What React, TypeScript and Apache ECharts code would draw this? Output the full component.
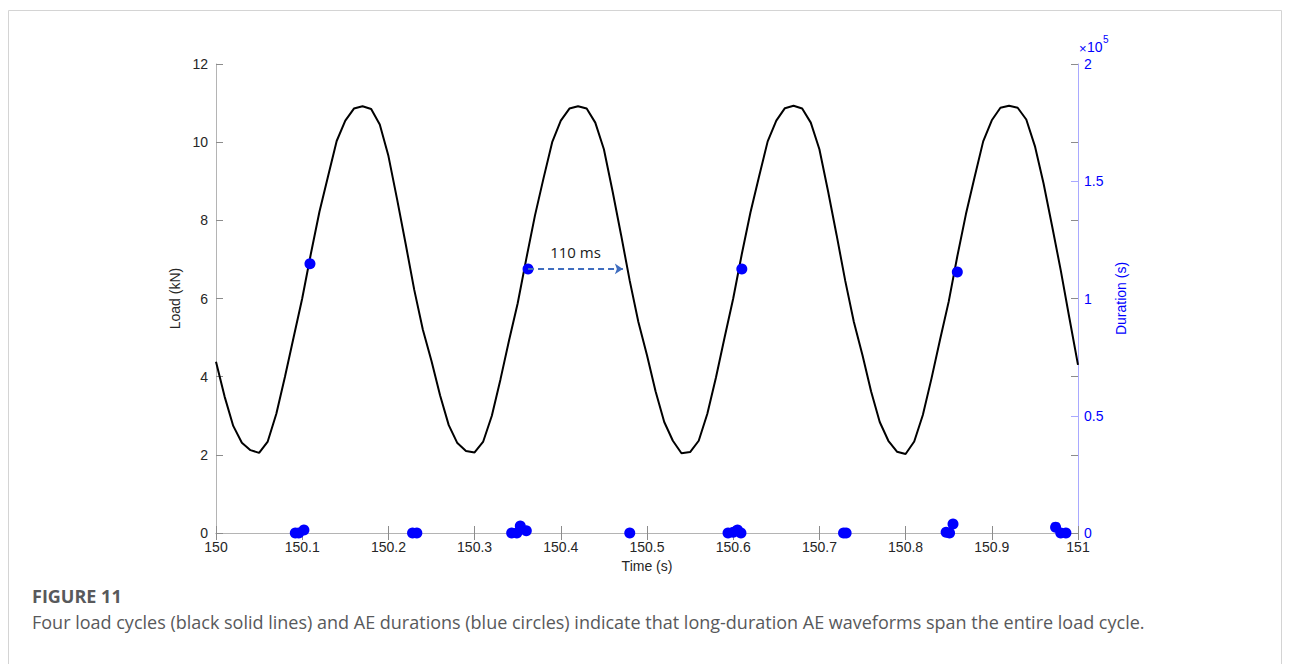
import React, { useEffect, useRef } from "react";
import * as echarts from "echarts";

// Load signal sampled every 10 ms (s, kN)
const timeS = [
  150.0, 150.01, 150.02, 150.03, 150.04, 150.05, 150.06, 150.07, 150.08, 150.09,
  150.1, 150.11, 150.12, 150.13, 150.14, 150.15, 150.16, 150.17, 150.18, 150.19,
  150.2, 150.21, 150.22, 150.23, 150.24, 150.25, 150.26, 150.27, 150.28, 150.29,
  150.3, 150.31, 150.32, 150.33, 150.34, 150.35, 150.36, 150.37, 150.38, 150.39,
  150.4, 150.41, 150.42, 150.43, 150.44, 150.45, 150.46, 150.47, 150.48, 150.49,
  150.5, 150.51, 150.52, 150.53, 150.54, 150.55, 150.56, 150.57, 150.58, 150.59,
  150.6, 150.61, 150.62, 150.63, 150.64, 150.65, 150.66, 150.67, 150.68, 150.69,
  150.7, 150.71, 150.72, 150.73, 150.74, 150.75, 150.76, 150.77, 150.78, 150.79,
  150.8, 150.81, 150.82, 150.83, 150.84, 150.85, 150.86, 150.87, 150.88, 150.89,
  150.9, 150.91, 150.92, 150.93, 150.94, 150.95, 150.96, 150.97, 150.98, 150.99,
  151.0,
];

const loadKN = [
  4.38, 3.49, 2.74, 2.31, 2.12, 2.05, 2.34, 3.05, 4.0, 5.0, 6.0, 7.14, 8.22, 9.13, 10.03, 10.55, 10.86, 10.92, 10.85, 10.45, 9.65, 8.55, 7.4, 6.22, 5.2,
  4.4, 3.52, 2.76, 2.3, 2.1, 2.06, 2.34, 3.0, 3.93, 4.93, 5.88, 7.02, 8.12, 9.08, 10.0, 10.55, 10.86, 10.92, 10.86, 10.5, 9.82, 8.75, 7.62, 6.45, 5.4,
  4.55, 3.62, 2.84, 2.36, 2.04, 2.07, 2.36, 3.05, 3.98, 5.0, 6.0, 7.14, 8.2, 9.12, 10.02, 10.55, 10.87, 10.93, 10.86, 10.5, 9.82, 8.75, 7.62, 6.45, 5.4,
  4.55, 3.62, 2.84, 2.36, 2.08, 2.02, 2.34, 3.02, 3.95, 4.95, 5.92, 7.08, 8.16, 9.1, 10.02, 10.56, 10.88, 10.93, 10.88, 10.58, 9.9, 8.95, 7.85, 6.72, 5.5,
  4.3,
];

// AE hits: time (s) and duration (axis shown x10^5)
const aeTime = [
  150.092, 150.096, 150.102, 150.109, 150.228, 150.233, 150.343, 150.349, 150.353,
  150.36, 150.362, 150.48, 150.594, 150.6, 150.605, 150.609, 150.61, 150.728,
  150.731, 150.847, 150.851, 150.855, 150.86, 150.974, 150.98, 150.986,
];
const aeDuration = [
  0, 0, 1300, 114800, 0, 0, 0, 0, 3000,
  1000, 112600, 0, 0, 300, 1300, 0, 112600, 0,
  0, 300, 0, 3800, 111300, 2500, 0, 0,
];

// Annotation: span from the AE hit at 150.362 s, 110 ms long
const spanStart = [150.362, 112600];
const spanMs = 110;

const xMin = 150;
const xMax = 151;
const xStep = 0.1;
const loadMax = 12;
const loadStep = 2;
const durMax = 200000;
const durStep = 50000;

const captionTitle = "FIGURE 11";
const captionText =
  "Four load cycles (black solid lines) and AE durations (blue circles) indicate that long-duration AE waveforms span the entire load cycle.";

const FONT = "'Liberation Sans', Arial, Helvetica, sans-serif";
const CAPFONT = "'Open Sans', 'Noto Sans', sans-serif";
const AX = "#b4b4b4";
const TXT = "#262626";
const BLUE = "#0000ff";
const LBLUE = "#a9a9ff";

export default function App() {
  const ref = useRef<HTMLDivElement>(null);

  useEffect(() => {
    document.body.style.margin = "0";
    const chart = echarts.init(ref.current!, null, { renderer: "svg" });
    const option: any = {
      animation: false,
      backgroundColor: "#ffffff",
      grid: { left: 216, right: 212, top: 64, bottom: 131, containLabel: false },
      xAxis: [
        {
          type: "value",
          min: xMin,
          max: xMax,
          interval: xStep,
          position: "bottom",
          name: "Time (s)",
          nameLocation: "middle",
          nameGap: 21,
          nameTextStyle: { fontFamily: FONT, fontSize: 14, color: TXT },
          axisLine: { show: true, lineStyle: { color: AX, width: 1 } },
          axisTick: { show: true, inside: true, length: 7, lineStyle: { color: "#8c8c8c" } },
          axisLabel: {
            fontFamily: FONT,
            fontSize: 14,
            color: TXT,
            margin: 7,
            formatter: (v: number) => String(Math.round(v * 10) / 10),
          },
          splitLine: { show: false },
        },
        {
          type: "value",
          min: xMin,
          max: xMax,
          interval: xStep,
          position: "top",
          axisLine: { show: true, lineStyle: { color: AX, width: 1 } },
          axisTick: { show: true, inside: true, length: 7, lineStyle: { color: "#8c8c8c" } },
          axisLabel: { show: false },
          splitLine: { show: false },
        },
      ],
      yAxis: [
        {
          type: "value",
          min: 0,
          max: loadMax,
          interval: loadStep,
          position: "left",
          name: "Load (kN)",
          nameLocation: "middle",
          nameGap: 31,
          nameTextStyle: { fontFamily: FONT, fontSize: 14, color: TXT },
          axisLine: { show: true, lineStyle: { color: AX, width: 1 } },
          axisTick: { show: true, inside: true, length: 7, lineStyle: { color: "#8c8c8c" } },
          axisLabel: { fontFamily: FONT, fontSize: 14, color: TXT, margin: 8 },
          splitLine: { show: false },
        },
        {
          type: "value",
          min: 0,
          max: durMax,
          interval: durStep,
          position: "right",
          name: "Duration (s)",
          nameLocation: "middle",
          nameGap: 21,
          nameRotate: 90,
          nameTextStyle: { fontFamily: FONT, fontSize: 14, color: BLUE },
          axisLine: { show: true, lineStyle: { color: LBLUE, width: 1 } },
          axisTick: { show: true, inside: true, length: 7, lineStyle: { color: LBLUE } },
          axisLabel: {
            fontFamily: FONT,
            fontSize: 14,
            color: BLUE,
            margin: 6,
            formatter: (v: number) => String(v / 100000),
          },
          splitLine: { show: false },
        },
        {
          type: "value",
          min: 0,
          max: loadMax,
          interval: loadStep,
          position: "right",
          axisLine: { show: false },
          axisTick: { show: true, inside: true, length: 7, lineStyle: { color: "#8c8c8c" } },
          axisLabel: { show: false },
          splitLine: { show: false },
        },
      ],
      series: [
        {
          type: "line",
          name: "Load",
          xAxisIndex: 0,
          yAxisIndex: 0,
          data: timeS.map((t, i) => [t, loadKN[i]]),
          showSymbol: false,
          lineStyle: { color: "#000000", width: 2 },
          z: 2,
        },
        {
          type: "scatter",
          name: "AE duration",
          xAxisIndex: 0,
          yAxisIndex: 1,
          data: aeTime.map((t, i) => [t, aeDuration[i]]),
          symbolSize: 11,
          itemStyle: { color: BLUE, opacity: 1 },
          clip: false,
          z: 3,
          markLine: {
            silent: true,
            symbol: ["none", "arrow"],
            symbolSize: [8, 8],
            lineStyle: { color: "#3f6dbf", width: 2, type: [6, 4] },
            label: {
              show: true,
              position: "insideMiddleTop",
              distance: 9,
              formatter: spanMs + " ms",
              fontFamily: CAPFONT,
              fontSize: 15,
              color: "#1a1a1a",
            },
            emphasis: { disabled: true },
            data: [
              [
                { coord: [spanStart[0], spanStart[1]] },
                { coord: [spanStart[0] + spanMs / 1000, spanStart[1]] },
              ],
            ],
          },
        },
      ],
      graphic: [
        {
          type: "rect",
          shape: { x: 8.5, y: 10.5, width: 1273, height: 700 },
          style: { fill: "none", stroke: "#d4d4d4", lineWidth: 1 },
          silent: true,
          z: -10,
        },
        {
          type: "text",
          x: 1079,
          y: 42,
          style: { text: "×", font: "13px " + FONT, fill: BLUE },
        },
        {
          type: "text",
          x: 1087,
          y: 40,
          style: { text: "10", font: "14px " + FONT, fill: BLUE },
        },
        {
          type: "text",
          x: 1103,
          y: 34,
          style: { text: "5", font: "10px " + FONT, fill: BLUE },
        },
        {
          type: "text",
          x: 32,
          y: 587,
          style: {
            text: captionTitle,
            font: "bold 18px " + CAPFONT,
            fill: "#58595b",
          },
        },
        {
          type: "text",
          x: 32,
          y: 613,
          style: {
            text: captionText,
            font: "18px " + CAPFONT,
            fill: "#58595b",
          },
        },
      ],
    };
    chart.setOption(option);
    return () => chart.dispose();
  }, []);

  return <div ref={ref} style={{ width: 1290, height: 664 }} />;
}
